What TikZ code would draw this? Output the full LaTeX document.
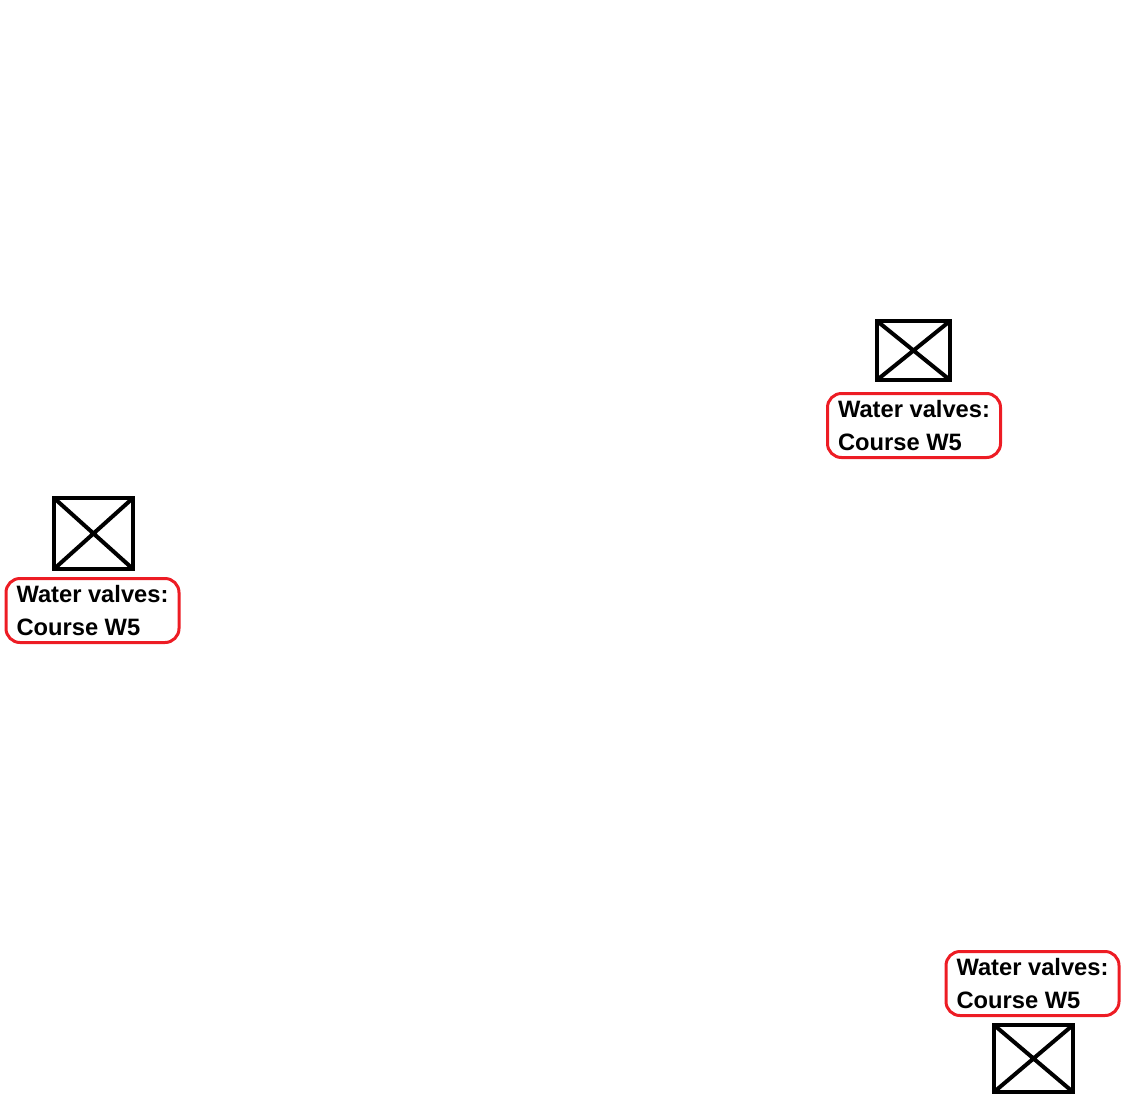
\documentclass[tikz,border=0pt]{standalone}
\usepackage{fontspec}
\newfontfamily\labfont{Liberation Sans}
\definecolor{paintred}{RGB}{237,28,36}
\begin{document}
\begin{tikzpicture}[x=1pt,y=-1pt,
  valve/.style={draw=black,line width=4pt,outer sep=0pt,inner sep=0pt},
  tag/.style={draw=paintred,line width=3pt,rounded corners=14pt,outer sep=0pt,inner sep=0pt,
    minimum width=173pt,minimum height=64pt,align=left,
    font=\labfont\bfseries\fontsize{23.7pt}{33pt}\selectfont}]
\useasboundingbox (0,0) rectangle (1134,1116);
% group 1
\node[valve,minimum width=73pt,minimum height=59pt] (b1) at (913.5,350.5) {};
\draw[line width=4pt] (b1.north west) -- (b1.south east) (b1.north east) -- (b1.south west);
\node[tag] (t1) at (914,425.5) {Water valves:\\Course W5};
% group 2
\node[valve,minimum width=79pt,minimum height=71pt] (b2) at (93.5,533.5) {};
\draw[line width=4pt] (b2.north west) -- (b2.south east) (b2.north east) -- (b2.south west);
\node[tag] (t2) at (92.5,610.5) {Water valves:\\Course W5};
% group 3
\node[tag] (t3) at (1032.5,983.5) {Water valves:\\Course W5};
\node[valve,minimum width=79pt,minimum height=67pt] (b3) at (1033.5,1058.5) {};
\draw[line width=4pt] (b3.north west) -- (b3.south east) (b3.north east) -- (b3.south west);
\end{tikzpicture}
\end{document}
